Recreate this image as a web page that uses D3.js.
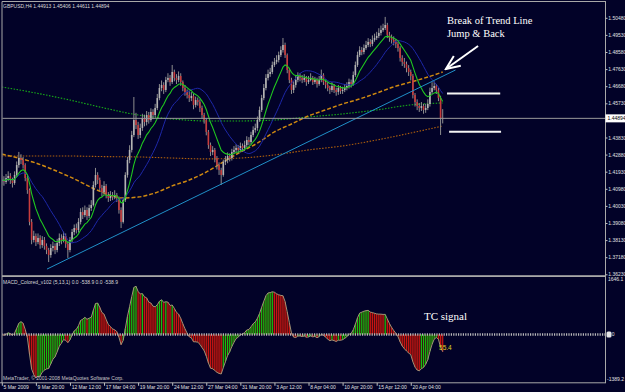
<!DOCTYPE html>
<html lang="en">
<head>
<meta charset="UTF-8">
<title>GBPUSD,H4</title>
<script src="https://cdnjs.cloudflare.com/ajax/libs/d3/7.8.5/d3.min.js"></script>
<style>
    body { margin: 0; background: #020228; }
    svg { display: block; }
    text { font-family: "Liberation Sans", Arial, sans-serif; }
    .note { font-family: "Liberation Serif", "Times New Roman", serif; fill: #ffffff; }
</style>
</head>
<body>
<svg width="625" height="392"></svg>
<script>
// H4 bars, 5 Mar 2009 .. 20 Apr 2009 (rows of 16 bars = one time label each)
var opens = [
 1.4140,1.4147,1.4136,1.4158,1.4169,1.4147,1.4130,1.4175,1.4230,1.4269,1.4258,1.4230,1.4158,1.4091,1.3914,1.3814,
 1.3836,1.3802,1.3825,1.3786,1.3814,1.3780,1.3758,1.3730,1.3769,1.3780,1.3758,1.3797,1.3825,1.3814,1.3836,1.3791,
 1.3758,1.3814,1.3858,1.3880,1.3869,1.3914,1.3969,1.3952,1.3980,1.3947,1.3991,1.4008,1.4119,1.4175,1.4147,1.4102,
 1.4080,1.4114,1.4063,1.4047,1.4063,1.4052,1.4063,1.4047,1.3980,1.3914,1.4036,1.4175,1.4258,1.4314,1.4397,1.4480,
 1.4452,1.4397,1.4436,1.4491,1.4469,1.4508,1.4480,1.4525,1.4508,1.4547,1.4602,1.4658,1.4675,1.4647,1.4703,1.4714,
 1.4691,1.4747,1.4714,1.4703,1.4725,1.4691,1.4658,1.4636,1.4619,1.4602,1.4614,1.4564,1.4591,1.4580,1.4547,1.4508,
 1.4480,1.4414,1.4341,1.4302,1.4314,1.4269,1.4230,1.4202,1.4175,1.4247,1.4258,1.4280,1.4269,1.4302,1.4314,1.4325,
 1.4314,1.4336,1.4325,1.4341,1.4369,1.4358,1.4397,1.4425,1.4436,1.4480,1.4536,1.4602,1.4658,1.4714,1.4736,1.4747,
 1.4786,1.4803,1.4814,1.4841,1.4869,1.4897,1.4841,1.4758,1.4703,1.4647,1.4675,1.4703,1.4725,1.4714,1.4703,1.4714,
 1.4691,1.4703,1.4714,1.4691,1.4703,1.4680,1.4703,1.4730,1.4691,1.4675,1.4658,1.4647,1.4669,1.4647,1.4636,1.4658,
 1.4641,1.4647,1.4658,1.4669,1.4691,1.4680,1.4730,1.4786,1.4841,1.4869,1.4858,1.4880,1.4897,1.4914,1.4903,1.4925,
 1.4936,1.4947,1.4964,1.4980,1.4991,1.5008,1.4953,1.4936,1.4925,1.4914,1.4903,1.4880,1.4825,1.4803,1.4791,1.4769,
 1.4747,1.4725,1.4619,1.4580,1.4558,1.4547,1.4558,1.4536,1.4547,1.4569,1.4636,1.4658,1.4669,1.4647,1.4603,1.44913];
var highs = [
 1.4175,1.4168,1.4180,1.4195,1.4185,1.4160,1.4195,1.4250,1.4303,1.4290,1.4275,1.4240,1.4170,1.4100,1.3930,1.3865,
 1.3850,1.3850,1.3840,1.3835,1.3830,1.3795,1.3770,1.3790,1.3805,1.3795,1.3820,1.3850,1.3845,1.3860,1.3850,1.3805,
 1.3830,1.3875,1.3900,1.3905,1.3935,1.3990,1.3995,1.4005,1.3995,1.4010,1.4035,1.4140,1.4214,1.4190,1.4160,1.4120,
 1.4140,1.4125,1.4080,1.4085,1.4080,1.4090,1.4075,1.4055,1.3995,1.4050,1.4190,1.4275,1.4340,1.4420,1.4608,1.4520,
 1.4470,1.4460,1.4515,1.4510,1.4530,1.4525,1.4545,1.4540,1.4570,1.4625,1.4680,1.4700,1.4690,1.4720,1.4740,1.4730,
 1.4786,1.4760,1.4735,1.4750,1.4740,1.4700,1.4675,1.4650,1.4640,1.4635,1.4625,1.4610,1.4605,1.4595,1.4560,1.4520,
 1.4490,1.4425,1.4355,1.4335,1.4325,1.4280,1.4245,1.4215,1.4260,1.4280,1.4300,1.4295,1.4320,1.4335,1.4345,1.4340,
 1.4355,1.4350,1.4365,1.4390,1.4385,1.4415,1.4445,1.4460,1.4500,1.4555,1.4620,1.4680,1.4735,1.4760,1.4770,1.4805,
 1.4825,1.4840,1.4860,1.4890,1.4936,1.4910,1.4850,1.4770,1.4715,1.4695,1.4725,1.4745,1.4740,1.4730,1.4735,1.4725,
 1.4725,1.4740,1.4725,1.4720,1.4715,1.4725,1.4760,1.4740,1.4705,1.4690,1.4670,1.4690,1.4680,1.4660,1.4675,1.4670,
 1.4665,1.4680,1.4690,1.4710,1.4705,1.4750,1.4805,1.4860,1.4890,1.4885,1.4900,1.4920,1.4935,1.4930,1.4950,1.4960,
 1.4970,1.4990,1.5005,1.5015,1.5053,1.5020,1.4970,1.4955,1.4945,1.4930,1.4915,1.4890,1.4840,1.4825,1.4805,1.4785,
 1.4760,1.4735,1.4630,1.4595,1.4575,1.4580,1.4570,1.4570,1.4595,1.4660,1.4690,1.4695,1.4680,1.4660,1.4615,1.45406];
var lows = [
 1.4120,1.4115,1.4125,1.4140,1.4125,1.4105,1.4120,1.4165,1.4215,1.4235,1.4210,1.4140,1.4070,1.3895,1.3790,1.3800,
 1.3780,1.3790,1.3765,1.3770,1.3760,1.3735,1.3691,1.3715,1.3750,1.3735,1.3745,1.3780,1.3790,1.3800,1.3770,1.3714,
 1.3745,1.3800,1.3840,1.3850,1.3855,1.3900,1.3930,1.3940,1.3925,1.3935,1.3975,1.4000,1.4105,1.4125,1.4085,1.4055,
 1.4065,1.4045,1.4025,1.4030,1.4035,1.4040,1.4025,1.3960,1.3880,1.3905,1.4025,1.4160,1.4240,1.4300,1.4385,1.4430,
 1.4375,1.4380,1.4420,1.4445,1.4450,1.4460,1.4470,1.4485,1.4495,1.4535,1.4590,1.4640,1.4625,1.4635,1.4690,1.4670,
 1.4680,1.4695,1.4680,1.4690,1.4670,1.4640,1.4615,1.4600,1.4580,1.4585,1.4540,1.4550,1.4560,1.4525,1.4490,1.4460,
 1.4395,1.4320,1.4280,1.4285,1.4245,1.4205,1.4175,1.4119,1.4165,1.4230,1.4240,1.4250,1.4255,1.4290,1.4300,1.4295,
 1.4300,1.4305,1.4310,1.4330,1.4340,1.4345,1.4385,1.4410,1.4420,1.4470,1.4525,1.4590,1.4645,1.4700,1.4720,1.4735,
 1.4775,1.4790,1.4800,1.4830,1.4855,1.4825,1.4740,1.4685,1.4625,1.4630,1.4660,1.4690,1.4695,1.4685,1.4690,1.4670,
 1.4680,1.4695,1.4675,1.4680,1.4660,1.4670,1.4690,1.4675,1.4655,1.4640,1.4625,1.4635,1.4630,1.4615,1.4620,1.4625,
 1.4625,1.4635,1.4645,1.4655,1.4660,1.4670,1.4720,1.4775,1.4830,1.4840,1.4845,1.4870,1.4885,1.4885,1.4890,1.4915,
 1.4925,1.4935,1.4950,1.4970,1.4980,1.4935,1.4915,1.4905,1.4895,1.4880,1.4860,1.4805,1.4780,1.4770,1.4745,1.4725,
 1.4700,1.4600,1.4555,1.4535,1.4525,1.4530,1.4515,1.4520,1.4535,1.4555,1.4625,1.4645,1.4625,1.4585,1.4397,1.44611];
var closes = [
 1.4147,1.4136,1.4158,1.4169,1.4147,1.4130,1.4175,1.4230,1.4269,1.4258,1.4230,1.4158,1.4091,1.3914,1.3814,1.3836,
 1.3802,1.3825,1.3786,1.3814,1.3780,1.3758,1.3730,1.3769,1.3780,1.3758,1.3797,1.3825,1.3814,1.3836,1.3791,1.3758,
 1.3814,1.3858,1.3880,1.3869,1.3914,1.3969,1.3952,1.3980,1.3947,1.3991,1.4008,1.4119,1.4175,1.4147,1.4102,1.4080,
 1.4114,1.4063,1.4047,1.4063,1.4052,1.4063,1.4047,1.3980,1.3914,1.4036,1.4175,1.4258,1.4314,1.4397,1.4480,1.4452,
 1.4397,1.4436,1.4491,1.4469,1.4508,1.4480,1.4525,1.4508,1.4547,1.4602,1.4658,1.4675,1.4647,1.4703,1.4714,1.4691,
 1.4747,1.4714,1.4703,1.4725,1.4691,1.4658,1.4636,1.4619,1.4602,1.4614,1.4564,1.4591,1.4580,1.4547,1.4508,1.4480,
 1.4414,1.4341,1.4302,1.4314,1.4269,1.4230,1.4202,1.4175,1.4247,1.4258,1.4280,1.4269,1.4302,1.4314,1.4325,1.4314,
 1.4336,1.4325,1.4341,1.4369,1.4358,1.4397,1.4425,1.4436,1.4480,1.4536,1.4602,1.4658,1.4714,1.4736,1.4747,1.4786,
 1.4803,1.4814,1.4841,1.4869,1.4897,1.4841,1.4758,1.4703,1.4647,1.4675,1.4703,1.4725,1.4714,1.4703,1.4714,1.4691,
 1.4703,1.4714,1.4691,1.4703,1.4680,1.4703,1.4730,1.4691,1.4675,1.4658,1.4647,1.4669,1.4647,1.4636,1.4658,1.4641,
 1.4647,1.4658,1.4669,1.4691,1.4680,1.4730,1.4786,1.4841,1.4869,1.4858,1.4880,1.4897,1.4914,1.4903,1.4925,1.4936,
 1.4947,1.4964,1.4980,1.4991,1.5008,1.4953,1.4936,1.4925,1.4914,1.4903,1.4880,1.4825,1.4803,1.4791,1.4769,1.4747,
 1.4725,1.4619,1.4580,1.4558,1.4547,1.4558,1.4536,1.4547,1.4569,1.4636,1.4658,1.4669,1.4647,1.4603,1.44913,1.44894];

// long moving averages (they start before the visible bars)
var longBars = [0,16,32,48,64,80,96,112,128,144,160,176,192,207];
var maGreenDot = [1.4664,1.4630,1.4591,1.4547,1.4508,1.4486,1.4475,1.4475,1.4480,1.4497,1.4514,1.4536,1.4564,1.4575];
var maOrangeDot = [1.4280,1.4280,1.4280,1.4277,1.4275,1.4269,1.4264,1.4269,1.4286,1.4314,1.4336,1.4369,1.4408,1.4447];
var dashBars = [0,16,32,48,56,64,72,80,88,96,104,112,120,128,136,144,152,160,168,176,184,192,200,207];
var maOrangeDash = [1.4291,1.4241,1.4164,1.4075,1.4047,1.4052,1.4075,1.4114,1.4147,1.4191,1.4247,1.4302,1.4352,1.4414,1.4458,1.4503,1.4536,1.4569,1.4597,1.4630,1.4664,1.4691,1.4719,1.4747];

// drawn objects
var trendBars = [21.2, 213];
var trendPrices = [1.3652, 1.4758];
var levelLines = [{b0: 209, b1: 234, p: 1.46274}, {b0: 210, b1: 234.4, p: 1.44152}];
var arrowBars = [223.6, 208.5];
var arrowPrices = [1.48913, 1.47636];
var noteLines = ["Break of Trend Line", "Jump & Back"];
var noteBar = 209;
var notePrices = [1.50136, 1.49386];

var xTickBars = [0,16,32,48,64,80,96,112,128,144,160,176,192];
var xLabels = ["5 Mar 2009","9 Mar 20:00","12 Mar 12:00","17 Mar 04:00","19 Mar 20:00","24 Mar 12:00","27 Mar 04:00",
               "31 Mar 20:00","3 Apr 12:00","8 Apr 04:00","10 Apr 20:00","15 Apr 12:00","20 Apr 04:00"];
// 1.44780 sits under the current-price box, so MT4 does not show it
var yTicks = [1.36230,1.37180,1.38130,1.39080,1.40030,1.40980,1.41930,1.42880,1.43830,
              1.45730,1.46680,1.47630,1.48580,1.49530,1.50480];
var indLimits = [-1389.2, 1646.1];
var lastPrice = 1.44894;

var svg = d3.select("svg");
var bg = "#020228";
svg.append("rect").attr("width", 625).attr("height", 392).attr("fill", bg);

var x = d3.scaleLinear().domain([0, 16]).range([1.8, 35.88]);
var y = d3.scaleLinear().domain([1.36230, 1.50480]).range([274.3, 17.8]);
var yInd = d3.scaleLinear().domain(indLimits).range([383, 277]);

var defs = svg.append("defs");
defs.append("clipPath").attr("id", "clipMain").append("rect")
    .attr("x", 2.5).attr("y", 2).attr("width", 603).attr("height", 273);
defs.append("clipPath").attr("id", "clipInd").append("rect")
    .attr("x", 2.5).attr("y", 278).attr("width", 603).attr("height", 104.5);
defs.append("marker").attr("id", "head")
    .attr("viewBox", "-16 -8 18 16").attr("refX", 0).attr("refY", 0)
    .attr("markerUnits", "userSpaceOnUse").attr("markerWidth", 18).attr("markerHeight", 16)
    .attr("orient", "auto")
  .append("path").attr("d", "M-14,-6L0,0L-14,6")
    .attr("fill", "none").attr("stroke", "#fff").attr("stroke-width", 2);

function ema(values, n) {
    var k = 2 / (n + 1), out = [];
    values.forEach((v, i) => out.push(i === 0 ? v : out[i - 1] + k * (v - out[i - 1])));
    return out;
}
function sma(values, n) {
    return values.map((v, i) => d3.mean(values.slice(Math.max(0, i - n + 1), i + 1)));
}

var main = svg.append("g").attr("clip-path", "url(#clipMain)");

// moving averages behind the candles
var sampleLine = bars => d3.line().curve(d3.curveMonotoneX).x((d, i) => x(bars[i])).y(d => y(d));
main.append("path").attr("d", sampleLine(longBars)(maGreenDot))
    .attr("fill", "none").attr("stroke", "#18b018").attr("stroke-width", 1.1).attr("stroke-dasharray", "1.5,1.5");
main.append("path").attr("d", sampleLine(longBars)(maOrangeDot))
    .attr("fill", "none").attr("stroke", "#b0600c").attr("stroke-width", 1.1).attr("stroke-dasharray", "1.5,1.5");
main.append("path").attr("d", sampleLine(dashBars)(maOrangeDash))
    .attr("fill", "none").attr("stroke", "#d08a10").attr("stroke-width", 1.5).attr("stroke-dasharray", "4,2");

// candles
var candles = main.selectAll(".candle").data(closes).enter().append("g");
candles.append("line")
    .attr("x1", (d, i) => x(i)).attr("x2", (d, i) => x(i))
    .attr("y1", (d, i) => y(highs[i])).attr("y2", (d, i) => y(lows[i]))
    .attr("stroke", "#8e8e8e").attr("stroke-width", 1);
candles.append("rect")
    .attr("x", (d, i) => x(i) - 0.8).attr("width", 1.6)
    .attr("y", (d, i) => y(Math.max(opens[i], d)))
    .attr("height", (d, i) => Math.max(0.8, Math.abs(y(opens[i]) - y(d))))
    .attr("fill", (d, i) => d >= opens[i] ? "#b4b4b4" : "#c83c3c");

var priceLine = d3.line().x((d, i) => x(i)).y(d => y(d));
main.append("path").attr("d", priceLine(sma(closes, 20)))
    .attr("fill", "none").attr("stroke", "#1e28a8").attr("stroke-width", 1);
main.append("path").attr("d", priceLine(ema(closes, 10)))
    .attr("fill", "none").attr("stroke", "#20c820").attr("stroke-width", 1.1);

// trend line, price line, marks
main.append("line")
    .attr("x1", x(trendBars[0])).attr("y1", y(trendPrices[0]))
    .attr("x2", x(trendBars[1])).attr("y2", y(trendPrices[1]))
    .attr("stroke", "#2090c8").attr("stroke-width", 1);
main.append("line")
    .attr("x1", 2).attr("x2", 605.5).attr("y1", y(lastPrice)).attr("y2", y(lastPrice))
    .attr("stroke", "#9a9a9a").attr("stroke-width", 1);
main.selectAll(".lvl").data(levelLines).enter().append("line")
    .attr("x1", d => x(d.b0)).attr("x2", d => x(d.b1)).attr("y1", d => y(d.p)).attr("y2", d => y(d.p))
    .attr("stroke", "#f4f4f4").attr("stroke-width", 2);
main.append("line")
    .attr("x1", x(arrowBars[0])).attr("y1", y(arrowPrices[0]))
    .attr("x2", x(arrowBars[1])).attr("y2", y(arrowPrices[1]))
    .attr("stroke", "#fff").attr("stroke-width", 2).attr("marker-end", "url(#head)");
main.selectAll(".note").data(noteLines).enter().append("text").attr("class", "note")
    .attr("x", x(noteBar)).attr("y", (d, i) => y(notePrices[i]))
    .attr("font-size", 10.5).text(d => d);

// MACD_Colored (5,13,1)
var e5 = ema(closes, 5), e13 = ema(closes, 13);
var macd = closes.map((c, i) => (e5[i] - e13[i]) * 100000);
var ind = svg.append("g").attr("clip-path", "url(#clipInd)");
ind.append("path")
    .attr("d", d3.area().x((d, i) => x(i)).y0(yInd(0)).y1(d => yInd(d))(macd))
    .attr("fill", "#3a0c12");
ind.selectAll(".hb").data(macd).enter().append("rect")
    .attr("x", (d, i) => x(i) - 0.6).attr("width", 1.2)
    .attr("y", d => Math.min(yInd(d), yInd(0)))
    .attr("height", d => Math.abs(yInd(d) - yInd(0)))
    .attr("fill", (d, i) => i > 0 && d < macd[i - 1] ? "#c81414" : "#12c012");
ind.append("path").attr("d", d3.line().x((d, i) => x(i)).y(d => yInd(d))(macd))
    .attr("fill", "none").attr("stroke", "#a09478").attr("stroke-width", 1);
ind.append("line").attr("x1", 2).attr("x2", 605.5).attr("y1", yInd(0)).attr("y2", yInd(0))
    .attr("stroke", "#b8b8b8").attr("stroke-width", 2.4).attr("stroke-dasharray", "1.2,1.2");
ind.append("text").attr("class", "note").attr("x", x(198.2)).attr("y", yInd(401))
    .attr("font-size", 11).text("TC signal");
ind.append("text").attr("x", x(205.3)).attr("y", yInd(-444))
    .attr("font-size", 6.5).attr("fill", "#e0d020").text("55.4");

// frame
var frame = "#a8a8a8";
svg.append("line").attr("x1", 2).attr("x2", 605.5).attr("y1", 1.5).attr("y2", 1.5).attr("stroke", frame);
svg.append("line").attr("x1", 2).attr("x2", 2).attr("y1", 1.5).attr("y2", 383).attr("stroke", frame);
svg.append("line").attr("x1", 605.5).attr("x2", 605.5).attr("y1", 1).attr("y2", 383).attr("stroke", frame);
svg.append("rect").attr("x", 2).attr("y", 275.2).attr("width", 603.5).attr("height", 1.8).attr("fill", frame);
svg.append("line").attr("x1", 0).attr("x2", 606).attr("y1", 382.8).attr("y2", 382.8).attr("stroke", frame);

// axes
var small = 5;
var yAxis = svg.append("g").attr("transform", "translate(605.5,0)")
    .call(d3.axisRight(y).tickValues(yTicks).tickSize(2).tickPadding(0.8).tickFormat(d3.format(".5f")));
var xAxis = svg.append("g").attr("transform", "translate(0,382.8)")
    .call(d3.axisBottom(x).tickValues(xTickBars).tickSize(3).tickPadding(0).tickFormat((d, i) => xLabels[i]));
[yAxis, xAxis].forEach(g => {
    g.select(".domain").remove();
    g.selectAll("line").attr("stroke", "#c0c0c0");
    g.selectAll("text").attr("fill", "#e0e0e0").attr("font-size", small).attr("font-family", "Liberation Sans, Arial, sans-serif");
});
xAxis.selectAll("text").attr("text-anchor", "start").attr("dx", 1.2);

// current price box
svg.append("rect").attr("x", 605.5).attr("y", y(lastPrice) - 4).attr("width", 20).attr("height", 8).attr("fill", "#ffffff");
svg.append("text").attr("x", 607.5).attr("y", y(lastPrice)).attr("dy", "0.35em")
    .attr("font-size", small).attr("fill", "#000").text(d3.format(".5f")(lastPrice));

// indicator scale labels
svg.append("text").attr("x", 608).attr("y", yInd(indLimits[1]) + 4.2).attr("font-size", small).attr("fill", "#e0e0e0").text(indLimits[1].toFixed(1));
svg.append("text").attr("x", 607).attr("y", yInd(indLimits[0]) - 2).attr("font-size", small).attr("fill", "#e0e0e0").text(indLimits[0].toFixed(1));
svg.append("rect").attr("x", 606.5).attr("y", yInd(0) - 3).attr("width", 5).attr("height", 6).attr("rx", 1.5).attr("fill", "#e6e6e6");
svg.append("text").attr("x", 611.8).attr("y", yInd(0)).attr("dy", "0.35em").attr("font-size", small).attr("fill", "#e0e0e0").text("0");

// captions
svg.append("text").attr("x", 3).attr("y", 8).attr("font-size", small).attr("fill", "#d8d8d8")
    .text("GBPUSD,H4  1.44913 1.45406 1.44611 1.44894");
svg.append("text").attr("x", 3).attr("y", 284.3).attr("font-size", small).attr("fill", "#d8d8d8")
    .text("MACD_Colored_v102 (5,13,1) 0.0 -538.9 0.0 -538.9");
svg.append("text").attr("x", 3).attr("y", 380).attr("font-size", small).attr("fill", "#c8c8c8")
    .text("MetaTrader, \u00a9 2001-2008 MetaQuotes Software Corp.");
</script>
</body>
</html>
